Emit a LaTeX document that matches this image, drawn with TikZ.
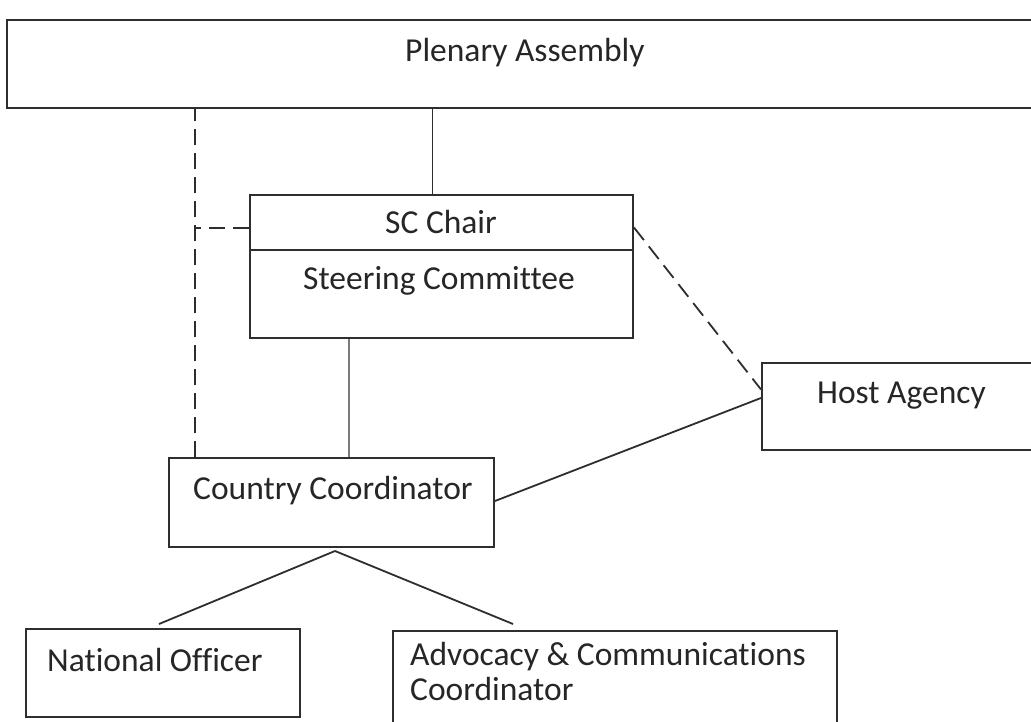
\documentclass[tikz,border=0pt]{standalone}
\usepackage{fontspec}
\setmainfont{Carlito}[Ligatures={NoCommon}]
\begin{document}
\begin{tikzpicture}[x=1pt,y=-1pt,
  box/.style={draw=linec, line width=2pt, rectangle, inner sep=0pt, anchor=north west},
  txt/.style={text=textc, inner sep=0pt, anchor=base west, font=\fontsize{33.5}{35}\selectfont},
  conn/.style={draw=linec, line width=1.8pt},
  dconn/.style={conn, dash pattern=on 16pt off 8pt}]
\definecolor{linec}{HTML}{2E2E2E}
\definecolor{textc}{HTML}{262626}
\definecolor{greyc}{HTML}{7A7A7A}
\useasboundingbox (0,0) rectangle (1031,722);
\fill[white] (0,0) rectangle (1031,722);
\clip (0,0) rectangle (1031,722);
% boxes
\node[box, minimum width=1050pt, minimum height=88pt] (pa) at (6,19) {};
\node[box, minimum width=383pt, minimum height=55pt] (scchair) at (249,194) {};
\node[box, minimum width=383pt, minimum height=88pt] (sc) at (249,249) {};
\node[box, minimum width=300pt, minimum height=87pt] (host) at (761,362) {};
\node[box, minimum width=325pt, minimum height=89pt] (cc) at (168,457) {};
\node[box, minimum width=274pt, minimum height=88pt] (no) at (25,628) {};
\node[box, minimum width=444pt, minimum height=200pt] (adv) at (392,630) {};
% texts
\node[txt] (tpa) at (405,62) {Plenary Assembly};
\node[txt] (tsch) at (385,234) {SC Chair};
\node[txt] (tsc) at (303,290) {Steering Committee};
\node[txt] (thost) at (817,403) {Host Agency};
\node[txt] (tcc) at (193,499) {Country Coordinator};
\node[txt] (tno) at (47,671) {National Officer};
\node[txt] (tadv1) at (410,665) {Advocacy \& Communications};
\node[txt] (tadv2) at (410,700) {Coordinator};
% connectors
\draw[conn] ([xshift=-9pt]scchair.north) -- ([xshift=-9pt]scchair.north |- pa.south);
\draw[dconn] ([xshift=27pt]cc.north west) -- ([xshift=27pt]cc.north west |- pa.south);
\draw[dconn] ([yshift=-5.5pt]scchair.west) -- ++(-54pt,0);
\draw[dconn] ([yshift=-5pt]scchair.east) -- ([yshift=17pt]host.west);
\draw[conn, draw=greyc] ([xshift=-92.5pt]sc.south) -- ([xshift=-92.5pt]sc.south |- cc.north);
\draw[conn] ([yshift=1.5pt]cc.east) -- ([yshift=8.5pt]host.west);
\draw[conn] ([xshift=3.5pt,yshift=-3pt]cc.south) -- ([xshift=-4pt,yshift=4pt]no.north);
\draw[conn] ([xshift=3.5pt,yshift=-3pt]cc.south) -- ([xshift=121pt,yshift=6pt]adv.north west);
\end{tikzpicture}
\end{document}
